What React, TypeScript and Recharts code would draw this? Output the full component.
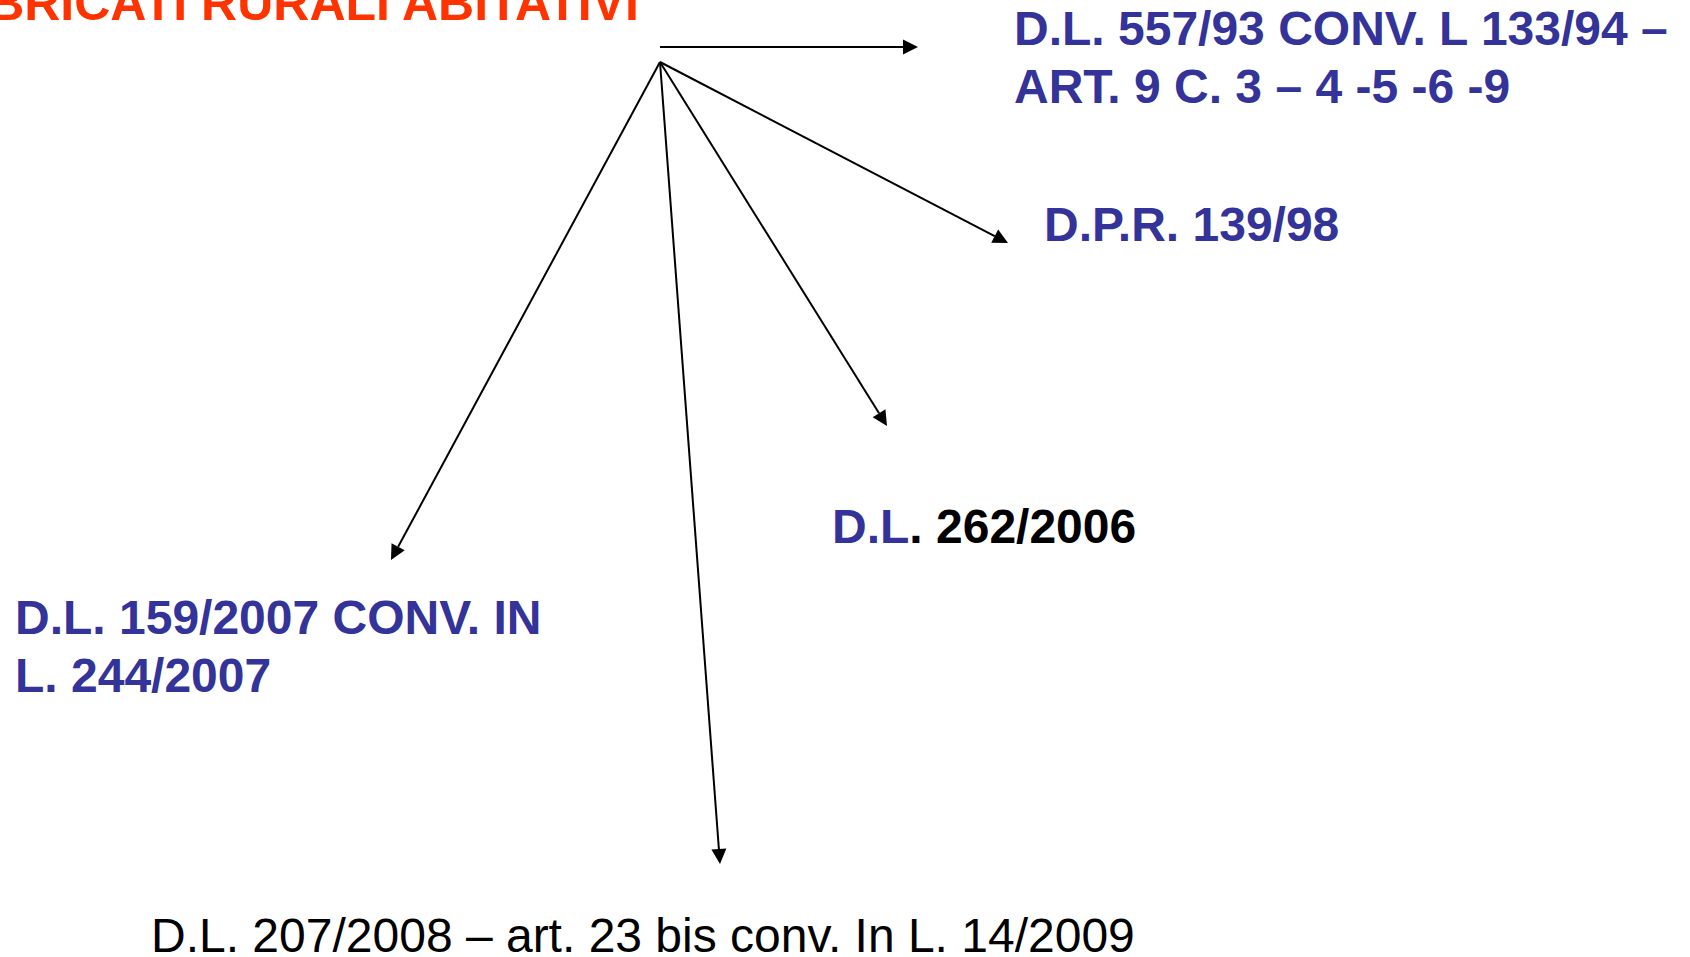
import React from 'react';
import { ComposedChart, XAxis, YAxis, Scatter, ReferenceLine } from 'recharts';

// page units: x 0..1690 left to right, y 0..957 top to bottom
const arrowNames = ['top', 'dpr', 'dl262', 'dl159', 'dl207'];
const arrowX1 = [660, 660, 660, 660, 660];
const arrowY1 = [47, 62, 62, 62, 62];
const arrowX2 = [918, 1008, 887, 391, 720];
const arrowY2 = [47, 243, 426, 560, 864];

const titleText = 'FABBRICATI RURALI ABITATIVI';
const titleX = 639;
const titleY = 20;

const labelNames = ['dl557', 'dpr', 'dl262', 'dl159', 'dl207'];
const labelLines = [
  ['D.L. 557/93 CONV. L 133/94 –', 'ART. 9 C. 3 – 4 -5 -6 -9'],
  ['D.P.R. 139/98'],
  ['D.L. 262/2006'],
  ['D.L. 159/2007 CONV. IN', 'L. 244/2007'],
  ['D.L. 207/2008 – art. 23 bis conv. In L. 14/2009'],
];
const labelX = [1014, 1044, 832, 15, 151];
const labelY = [45, 241, 543, 634, 952];

const BLUE = '#333399';
const RED = '#FF3300';
const FONT = '"Liberation Sans", Arial, sans-serif';

const labels = labelNames.map((name, i) => ({ name, x: labelX[i], y: labelY[i], lines: labelLines[i] }));
const title = [{ x: titleX, y: titleY, text: titleText }];

const Arrow = (props: any) => {
  const { x1, y1, x2, y2 } = props;
  const dx = x2 - x1;
  const dy = y2 - y1;
  const len = Math.sqrt(dx * dx + dy * dy);
  const ux = dx / len;
  const uy = dy / len;
  const head = 15;
  const half = 7.5;
  const bx = x2 - ux * head;
  const by = y2 - uy * head;
  const pts = [
    `${x2},${y2}`,
    `${bx - uy * half},${by + ux * half}`,
    `${bx + uy * half},${by - ux * half}`,
  ].join(' ');
  return (
    <g>
      <line x1={x1} y1={y1} x2={bx} y2={by} stroke="#000" strokeWidth={2} />
      <polygon points={pts} fill="#000" />
    </g>
  );
};

const LabelShape = (props: any) => {
  const { cx, cy, payload } = props;
  const regular = payload.name === 'dl207';
  return (
    <text
      x={cx}
      y={cy}
      fontFamily={FONT}
      fontSize={48}
      fontWeight={regular ? 400 : 700}
      fill={regular ? '#000' : BLUE}
    >
      {payload.lines.map((line: string, i: number) => {
        if (payload.name === 'dl262') {
          return (
            <tspan key={i} x={cx} dy={0}>
              <tspan fill={BLUE}>D.L</tspan>
              <tspan fill="#000">. 262/2006</tspan>
            </tspan>
          );
        }
        return (
          <tspan key={i} x={cx} dy={i === 0 ? 0 : 58}>
            {line}
          </tspan>
        );
      })}
    </text>
  );
};

const TitleShape = (props: any) => {
  const { cx, cy, payload } = props;
  return (
    <text x={cx} y={cy} textAnchor="end" fontFamily={FONT} fontSize={50} fontWeight={700} fill={RED}>
      {payload.text}
    </text>
  );
};

export default function App() {
  return (
    <div style={{ position: 'absolute', left: 0, top: 0, width: 1690, height: 957, background: '#fff' }}>
      <ComposedChart width={1690} height={957} margin={{ top: 0, right: 0, bottom: 0, left: 0 }}>
        <XAxis type="number" dataKey="x" domain={[0, 1690]} hide allowDataOverflow />
        <YAxis type="number" dataKey="y" domain={[0, 957]} reversed hide allowDataOverflow />
        {arrowNames.map((n, i) => (
          <ReferenceLine
            key={n}
            segment={[
              { x: arrowX1[i], y: arrowY1[i] },
              { x: arrowX2[i], y: arrowY2[i] },
            ]}
            ifOverflow="visible"
            shape={Arrow}
          />
        ))}
        <Scatter data={title} shape={TitleShape} isAnimationActive={false} />
        <Scatter data={labels} shape={LabelShape} isAnimationActive={false} />
      </ComposedChart>
    </div>
  );
}
